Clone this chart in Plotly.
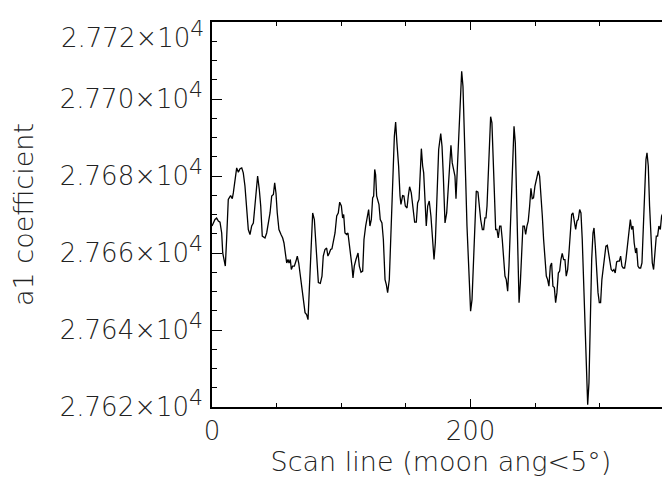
import plotly.graph_objects as go

# Scan line index (x) and a1 coefficient (y)
scan_line = [
    0, 2.3, 3.6, 4.9, 6.2, 7.5, 8.3, 9.3, 10.3, 11.3, 12.6, 14.4, 15.7, 16.5, 17.8, 19.1, 20.4, 21.7, 23.0, 24.2,
    25.5, 26.8, 28.1, 29.4, 30.7, 32.0, 33.3, 34.6, 35.3, 36.6, 37.7, 38.9, 41.0, 42.3, 43.6, 44.9, 46.2, 47.5, 48.5, 49.5,
    50.5, 51.8, 53.4, 54.7, 55.7, 56.7, 57.8, 58.8, 59.6, 60.6, 61.4, 62.4, 63.7, 65.0, 66.0, 67.1, 68.1, 68.9, 70.1, 70.9,
    72.0, 73.2, 74.3, 75.3, 76.6, 77.9, 79.2, 80.2, 81.5, 82.3, 83.8, 85.1, 86.1, 87.4, 88.7, 89.7, 90.8, 91.8, 92.8, 93.9,
    95.2, 96.5, 97.7, 98.8, 100.1, 101.1, 101.9, 102.9, 104.2, 105.2, 106.3, 107.3, 108.3, 109.1, 110.1, 111.4, 113.0, 114.0, 115.3, 116.6,
    117.6, 118.9, 120.2, 121.2, 122.2, 123.3, 124.3, 125.1, 125.9, 126.6, 127.4, 128.4, 129.2, 130.2, 131.5, 132.6, 133.9, 134.9, 135.9, 137.2,
    138.7, 140.3, 141.1, 142.1, 143.1, 144.4, 145.5, 146.2, 147.5, 148.5, 149.6, 150.9, 151.9, 152.9, 154.2, 155.5, 156.8, 158.1, 159.1, 160.2,
    161.2, 162.0, 163.0, 163.8, 164.8, 165.8, 166.9, 168.1, 169.4, 170.7, 171.8, 172.8, 174.1, 175.4,
    177.0, 178.0, 179.0, 180.3, 181.6, 182.9, 184.1, 184.9, 185.9, 187.2, 188.0, 188.8, 189.8, 191.1, 192.4, 193.2, 194.2, 195.2, 196.3, 197.3,
    198.3, 199.4, 200.1, 201.2, 202.2, 203.2, 204.5, 205.8, 206.8, 207.9, 209.2, 210.2, 211.2, 212.0, 212.8, 213.8, 214.8, 215.6, 216.6, 217.6,
    218.7, 219.5, 220.5, 221.5, 222.6, 223.6, 224.6, 225.7, 226.7, 227.7, 228.8, 229.8, 230.8, 231.9, 232.9, 233.7, 234.7, 235.5, 236.5, 237.6,
    238.6, 239.6, 240.6, 241.7, 242.7, 243.7, 244.7, 245.8, 246.8, 247.8, 248.8, 249.9, 251.2, 252.5, 253.5, 254.6, 255.6, 256.6, 257.6, 258.7,
    259.7, 260.7, 261.8, 262.8, 263.8, 264.9, 265.9, 266.9, 268.0, 269.0, 270.0, 271.0, 272.1, 273.1, 274.1, 275.2, 276.2, 277.2, 278.3, 279.3,
    280.3, 281.4, 282.4, 283.4, 284.5, 285.5, 286.5, 287.6, 288.6, 289.6, 290.7, 291.7, 292.7, 293.8, 294.8, 295.6, 296.6, 297.6, 298.7, 299.7,
    300.7, 301.7, 302.8, 303.8, 304.8, 305.9, 306.9, 307.9, 308.9, 310.0, 311.0, 312.0, 313.1, 314.1, 315.2, 316.2, 317.2, 318.2, 319.3, 320.3,
    321.3, 322.4, 323.7, 324.7, 325.7, 326.7, 327.8, 328.6, 329.6, 330.6, 331.7, 332.7, 333.7, 334.8, 335.8, 336.6, 337.6, 338.6, 339.7, 340.7,
    341.7, 342.8, 343.8, 344.8, 345.8, 346.9, 347.9, 348.9, 350.0, 351.0, 352.0, 353.1, 354.4, 355.5,
]
a1_coefficient = [
    27667.0, 27668.7, 27669.1, 27668.3, 27668.0, 27665.2, 27660.0, 27657.9, 27656.6, 27663.5, 27673.9, 27674.9, 27674.1, 27675.6, 27678.7, 27682.1, 27681.0, 27681.9, 27682.1, 27680.8,
    27677.4, 27670.4, 27666.1, 27664.8, 27667.0, 27667.8, 27673.0, 27678.2, 27680.0, 27676.5, 27672.2, 27664.4, 27663.9, 27665.2, 27667.8, 27670.4, 27674.8, 27675.2, 27678.2, 27675.6,
    27670.4, 27666.1, 27664.8, 27663.9, 27662.6, 27660.0, 27657.4, 27658.3, 27657.4, 27658.3, 27655.7, 27656.6, 27656.6, 27657.9, 27659.2, 27657.4, 27654.8, 27651.4, 27649.7, 27647.1,
    27644.5, 27644.0, 27642.7, 27650.5, 27660.9, 27670.4, 27668.7, 27662.6, 27655.7, 27652.3, 27652.1, 27654.0, 27659.2, 27660.9, 27661.3, 27659.2, 27660.0, 27660.9, 27661.1, 27663.5,
    27665.2, 27669.6, 27670.4, 27673.2, 27672.2, 27669.1, 27670.0, 27665.2, 27664.8, 27665.2, 27662.2, 27660.0, 27656.6, 27653.5, 27656.6, 27658.3, 27660.0, 27656.6, 27655.0, 27655.3,
    27663.5, 27667.0, 27669.6, 27671.3, 27667.0, 27668.7, 27674.3, 27674.8, 27681.7, 27680.4, 27674.8, 27673.0, 27672.6, 27668.7, 27667.8, 27663.5, 27653.1, 27651.8, 27649.7, 27653.1,
    27665.2, 27682.6, 27690.3, 27694.0, 27688.6, 27682.6, 27674.8, 27672.6, 27674.9, 27674.8, 27672.2, 27671.7, 27674.8, 27677.2, 27675.6, 27672.2, 27668.0, 27668.0, 27673.0, 27673.9,
    27681.7, 27687.1, 27682.6, 27680.8, 27673.9, 27667.0, 27672.2, 27673.5, 27669.6, 27663.5, 27658.3, 27662.6, 27673.9, 27686.9,
    27691.0, 27687.7, 27680.0, 27667.8, 27670.4, 27677.4, 27682.6, 27688.0, 27683.4, 27680.8, 27680.0, 27674.1, 27681.7, 27690.3, 27699.9, 27707.2, 27703.3, 27693.8, 27679.1, 27667.0,
    27657.4, 27649.7, 27644.9, 27647.9, 27656.6, 27665.2, 27676.1, 27675.8, 27672.2, 27668.7, 27666.1, 27666.1, 27669.1, 27669.1, 27672.2, 27680.8, 27689.5, 27695.4, 27693.8, 27684.3,
    27673.9, 27666.1, 27666.1, 27663.9, 27667.0, 27667.0, 27663.5, 27659.2, 27654.0, 27653.1, 27650.1, 27656.6, 27666.1, 27679.1, 27688.6, 27692.9, 27688.6, 27678.2, 27663.5, 27647.1,
    27652.3, 27660.0, 27667.0, 27667.0, 27664.8, 27667.0, 27668.3, 27672.2, 27676.8, 27674.1, 27674.3, 27677.4, 27679.1, 27681.3, 27680.0, 27675.6, 27669.6, 27663.5, 27658.3, 27654.0,
    27653.1, 27651.4, 27656.6, 27657.4, 27651.4, 27651.0, 27647.1, 27649.7, 27654.8, 27655.3, 27658.3, 27659.9, 27658.3, 27658.3, 27654.0, 27655.7, 27660.0, 27665.2, 27670.0, 27670.4,
    27668.3, 27666.1, 27668.3, 27668.7, 27671.3, 27670.4, 27663.5, 27652.3, 27639.3, 27628.0, 27620.6, 27626.3, 27642.7, 27658.3, 27665.2, 27666.5, 27661.8, 27654.8, 27649.7, 27647.1,
    27647.1, 27653.1, 27656.6, 27659.2, 27661.8, 27662.0, 27660.0, 27658.3, 27655.7, 27655.3, 27655.7, 27654.8, 27657.7, 27657.9, 27657.9, 27659.2, 27656.6, 27656.1, 27656.1, 27658.3,
    27661.8, 27665.2, 27668.7, 27666.1, 27667.0, 27662.6, 27660.0, 27661.3, 27656.6, 27656.1, 27656.1, 27657.4, 27665.2, 27677.4, 27684.3, 27686.0, 27682.6, 27672.2, 27661.8, 27657.4,
    27655.7, 27661.8, 27664.4, 27664.4, 27667.0, 27666.1, 27669.6, 27670.4, 27671.3, 27672.6, 27673.9, 27673.0, 27671.7, 27671.0,
]

y_tick_values = [27620, 27640, 27660, 27680, 27700, 27720]
SUP = "<sup><span style='font-size:22px'>4</span></sup>"
y_tick_labels = ["2.762×10" + SUP, "2.764×10" + SUP, "2.766×10" + SUP,
                 "2.768×10" + SUP, "2.770×10" + SUP, "2.772×10" + SUP]
x_tick_values = [0, 200, 400]
x_tick_text = ["0", "200", "400"]

FONT = "DejaVu Sans ExtraLight, DejaVu Sans"
TXT = "#222222"
TICKFONT = dict(family=FONT, size=26, color=TXT, weight=200)

# top label is drawn a little below its tick (as in the reference), others on the axis
axis_tick_text = y_tick_labels[:-1] + [""]

fig = go.Figure()
fig.add_trace(go.Scatter(x=scan_line, y=a1_coefficient, mode="lines",
                         line=dict(color="black", width=1.3), showlegend=False,
                         hoverinfo="skip"))

fig.add_annotation(x=0, xref="paper", y=y_tick_values[-1], yref="y",
                   text=y_tick_labels[-1], showarrow=False, xanchor="right",
                   yanchor="middle", xshift=-6, yshift=-12, font=TICKFONT)

fig.update_layout(
    width=662, height=475,
    margin=dict(l=204, r=0, t=14, b=75.5, autoexpand=False),
    paper_bgcolor="white", plot_bgcolor="white",
    font=dict(family=FONT, size=25, color=TXT, weight=200),
    xaxis=dict(
        range=[0, 354.4], tickmode="array", tickvals=x_tick_values, ticktext=x_tick_text,
        ticks="inside", ticklen=8, tickwidth=1, tickcolor="black",
        minor=dict(dtick=50, tick0=0, ticks="inside", ticklen=4, tickcolor="black", tickwidth=1, showgrid=False),
        showline=True, linecolor="black", linewidth=1.5, mirror="ticks",
        showgrid=False, zeroline=False, automargin=False,
        tickfont=TICKFONT,
        ticklabelstandoff=0,
        title=dict(text="Scan line (moon ang<5°)", font=dict(family=FONT, size=27, color=TXT, weight=200), standoff=6),
    ),
    yaxis=dict(
        range=[27620, 27720], tickmode="array", tickvals=y_tick_values, ticktext=axis_tick_text,
        ticks="inside", ticklen=10, tickwidth=1, tickcolor="black",
        minor=dict(dtick=5, tick0=27620, ticks="inside", ticklen=5, tickcolor="black", tickwidth=1, showgrid=False),
        showline=True, linecolor="black", linewidth=1.5, mirror=False,
        showgrid=False, zeroline=False, automargin=False,
        tickfont=TICKFONT,
        ticklabelstandoff=2, ticklabeloverflow="allow",
        title=dict(text="a1 coefficient", font=dict(family=FONT, size=27, color=TXT, weight=200), standoff=27),
    ),
    yaxis2=dict(
        range=[27620, 27720], overlaying="y", side="right", anchor="x",
        tickmode="array", tickvals=y_tick_values, showticklabels=False,
        ticks="inside", ticklen=10, tickwidth=1, tickcolor="black",
        minor=dict(dtick=5, tick0=27620, ticks="inside", ticklen=5, tickcolor="black", tickwidth=1, showgrid=False),
        showline=False, showgrid=False, zeroline=False, automargin=False,
    ),
)

fig.write_html("out.html")
